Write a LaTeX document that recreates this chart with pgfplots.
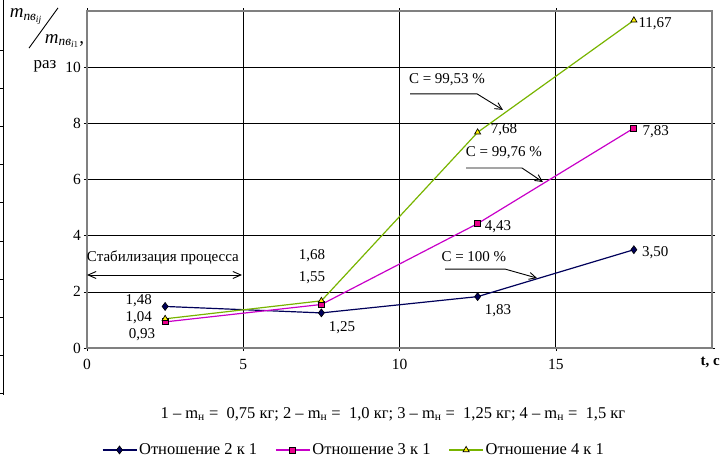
\documentclass[border=0pt]{standalone}
\usepackage{fontspec}
\setmainfont{Liberation Serif}
\usepackage{amsmath}
\usepackage{pgfplots}
\pgfplotsset{compat=1.18}
\usetikzlibrary{arrows.meta}
\definecolor{navyl}{RGB}{0,0,90}
\definecolor{magl}{RGB}{200,0,200}
\definecolor{greenl}{RGB}{120,180,0}
\definecolor{frameg}{RGB}{128,128,128}
\begin{document}
\fontsize{15}{18}\selectfont
\begin{tikzpicture}
\begin{axis}[
  scale only axis, width=625pt, height=337pt,
  xmin=0, xmax=20, ymin=0, ymax=12,
  xtick={0,5,10,15}, ytick={0,2,4,6,8,10},
  grid=major, grid style={black, line width=0.6pt},
  axis line style={frameg, line width=1.3pt},
  tick style={black, line width=0.5pt}, tick align=outside, major tick length=3pt,
  tick label style={font=\fontsize{15.5}{18}\selectfont},
  xticklabel style={yshift=-3pt},
  yticklabel style={xshift=2pt},
  /pgf/number format/assume math mode=true,
  clip=false,
  legend columns=3,
  legend style={draw=none, fill=none, at={(axis cs:8.54,-3.63)}, anchor=center,
    font=\fontsize{16.5}{19}\selectfont,
    /tikz/every even column/.append style={column sep=16pt}},
  legend cell align=left,
  legend image code/.code={\draw[mark repeat=2,mark phase=2,#1] plot coordinates {(0pt,0pt) (17pt,0pt) (34pt,0pt)};},
]
\addplot[color=navyl, line width=1.2pt, mark=diamond*, mark size=4pt, mark options={fill=navyl, draw=black, line width=0.6pt}]
  coordinates {(2.5,1.48) (7.5,1.25) (12.5,1.83) (17.5,3.50)};
\addlegendentry{Отношение 2 к 1}
\addplot[color=magl, line width=1.2pt, mark=square*, mark size=3pt, mark options={fill=magenta, draw=black, line width=0.8pt}]
  coordinates {(2.5,0.93) (7.5,1.55) (12.5,4.43) (17.5,7.83)};
\addlegendentry{Отношение 3 к 1}
\addplot[color=greenl, line width=1.2pt, mark=triangle*, mark size=3.5pt, mark options={fill=yellow, draw=black, line width=0.7pt}]
  coordinates {(2.5,1.04) (7.5,1.68) (12.5,7.68) (17.5,11.67)};
\addlegendentry{Отношение 4 к 1}

% value labels
\node at (axis cs:1.66,1.67) {1,48};
\node at (axis cs:1.66,1.07) {1,04};
\node at (axis cs:1.76,0.46) {0,93};
\node at (axis cs:7.2,3.28) {1,68};
\node at (axis cs:7.2,2.49) {1,55};
\node at (axis cs:8.16,0.71) {1,25};
\node at (axis cs:13.15,1.32) {1,83};
\node at (axis cs:13.15,4.31) {4,43};
\node at (axis cs:13.34,7.76) {7,68};
\node at (axis cs:18.18,3.38) {3,50};
\node at (axis cs:18.2,7.69) {7,83};
\node at (axis cs:18.18,11.54) {11,67};

% annotations
\node at (axis cs:11.52,9.54) {C = 99,53 \%};
\draw[-{Straight Barb[length=7pt,width=7pt]}, line width=0.9pt] (axis cs:10.34,9.05) -- (axis cs:12.48,9.05) -- (axis cs:13.31,8.48);
\node at (axis cs:13.34,6.94) {C = 99,76 \%};
\draw[-{Straight Barb[length=7pt,width=7pt]}, line width=0.9pt] (axis cs:12.13,6.41) -- (axis cs:13.92,6.41) -- (axis cs:14.59,5.91);
\node at (axis cs:12.38,3.24) {C = 100 \%};
\draw[-{Straight Barb[length=7pt,width=7pt]}, line width=0.9pt] (axis cs:11.46,2.81) -- (axis cs:13.38,2.81) -- (axis cs:14.4,2.49);

\node at (axis cs:2.43,3.2) {Стабилизация процесса};
\draw[{Straight Barb[length=8pt,width=7pt]}-{Straight Barb[length=8pt,width=7pt]}, line width=0.9pt] (axis cs:0,2.6) -- (axis cs:4.96,2.6);

% axis titles
\node at (axis cs:19.94,-0.53) {\textbf{t, c}};
\node[font=\fontsize{19}{22}\selectfont] at (axis cs:-1.95,11.8) {$\textit{m}_{\textit{пв}_{\textit{ij}}}$};
\draw[line width=0.9pt] (axis cs:-1.856,10.68) -- (axis cs:-0.928,12.11);
\node[font=\fontsize{19}{22}\selectfont] at (axis cs:-0.72,10.93) {$\textit{m}_{\textit{пв}_{\textit{i}1}}$,};
\node[font=\fontsize{17}{20}\selectfont] at (axis cs:-1.344,10.04) {раз};

% bottom text
\node[font=\fontsize{16.5}{19}\selectfont] at (axis cs:9.79,-2.35) {1 – m\textsubscript{н} = \ 0,75 кг; 2 – m\textsubscript{н} = \ 1,0 кг; 3 – m\textsubscript{н} = \ 1,25 кг; 4 – m\textsubscript{н} = \ 1,5 кг};

\coordinate (bbsw) at (axis cs:-2.784,-4.024);
\coordinate (bbne) at (axis cs:20.352,12.392);
\end{axis}
\pgfresetboundingbox
\path[use as bounding box] (bbsw) rectangle (bbne);
\begin{scope}[shift={(bbsw)}]
  \draw[line width=0.8pt] (3pt,461pt) -- (3pt,66pt);
  \foreach \y in {411,372.8,334.6,296.4,258.2,220,181.8,143.6,105.4,67.2} {
    \draw[line width=0.8pt] (0pt,\y pt) -- (3pt,\y pt);
  }
\end{scope}
\end{tikzpicture}
\end{document}
